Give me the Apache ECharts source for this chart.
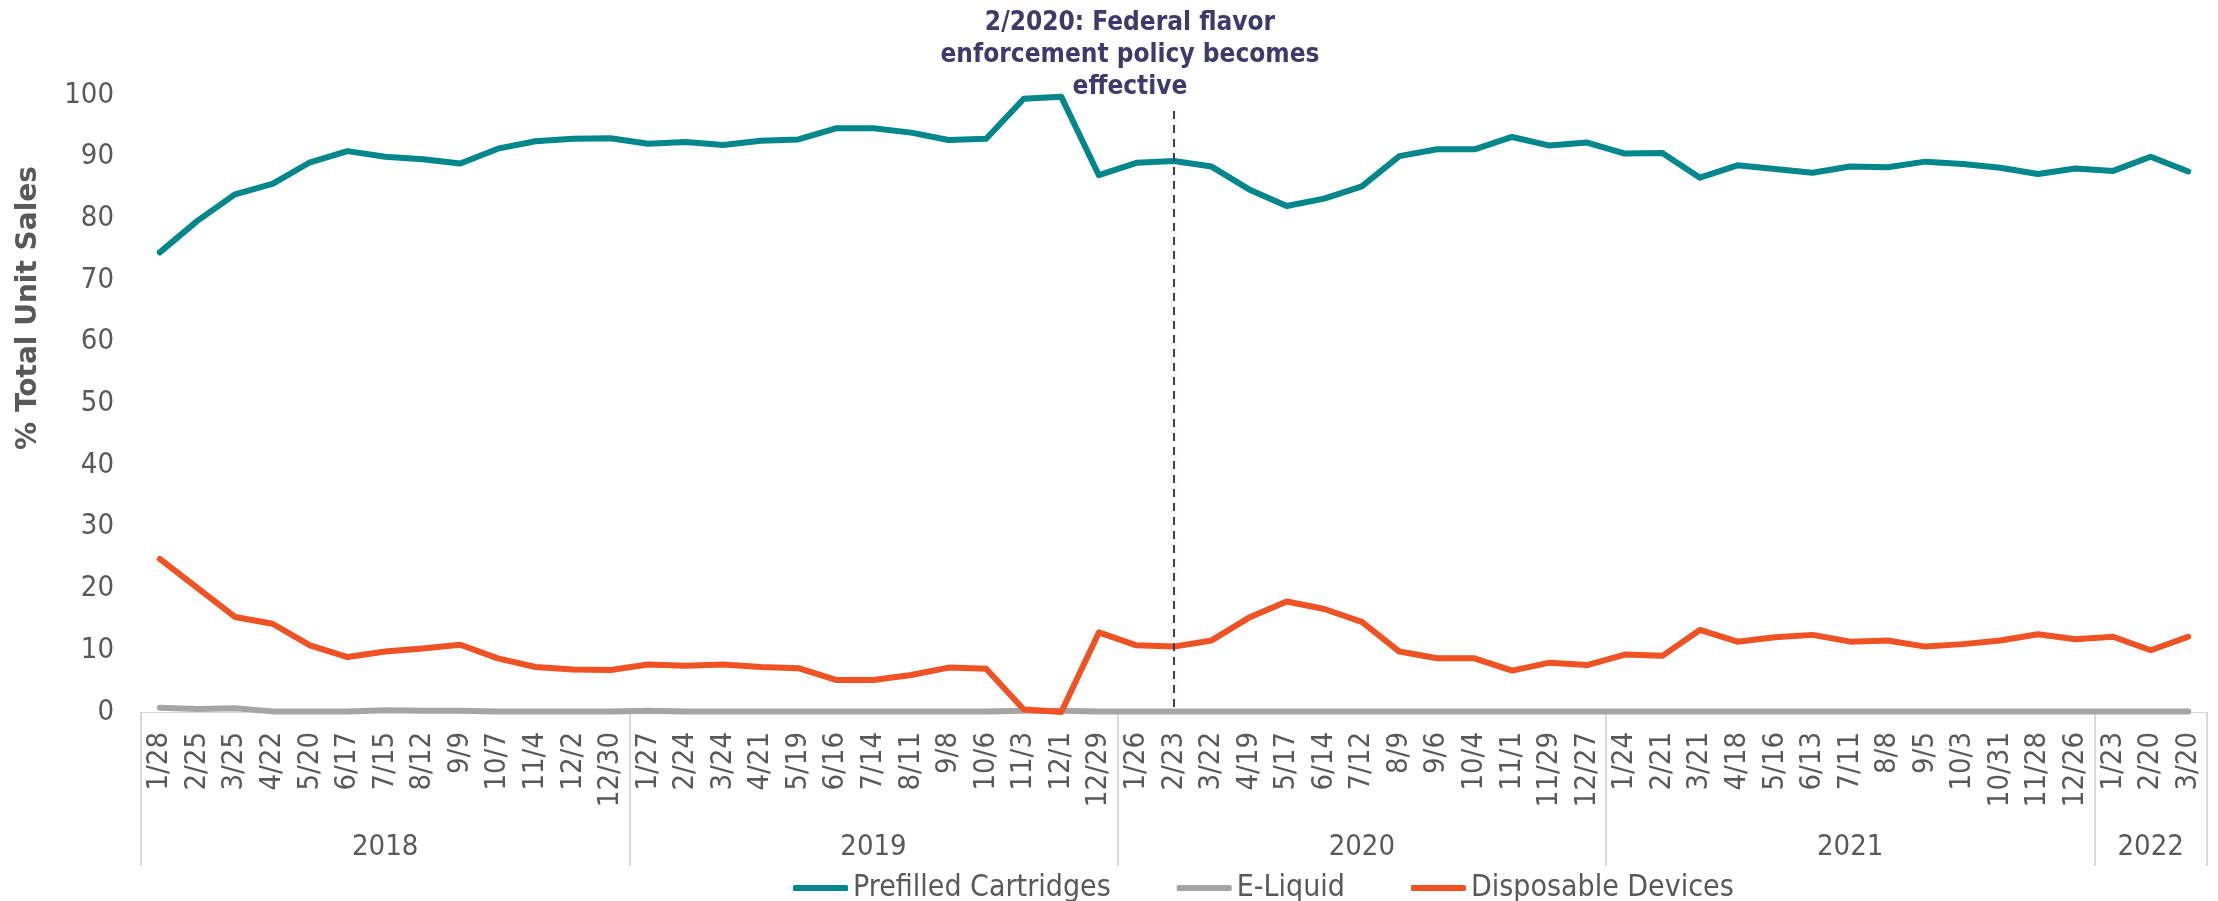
<!DOCTYPE html>
<html>
<head>
<meta charset="utf-8">
<script src="https://cdn.jsdelivr.net/npm/echarts@6/dist/echarts.min.js"></script>
<style>html,body{margin:0;padding:0;background:#fff}#c{width:2218px;height:901px}</style>
</head>
<body>
<div id="c"></div>
<script>
const months = ['1/28','2/25','3/25','4/22','5/20','6/17','7/15','8/12','9/9','10/7','11/4','12/2','12/30',
  '1/27','2/24','3/24','4/21','5/19','6/16','7/14','8/11','9/8','10/6','11/3','12/1','12/29',
  '1/26','2/23','3/22','4/19','5/17','6/14','7/12','8/9','9/6','10/4','11/1','11/29','12/27',
  '1/24','2/21','3/21','4/18','5/16','6/13','7/11','8/8','9/5','10/3','10/31','11/28','12/26',
  '1/23','2/20','3/20'];
const yearLabels = ['2018','2019','2020','2021','2022'];
const yearSizes = [13,13,13,13,3];
const prefilled = [74.5,79.6,83.9,85.6,89.1,90.9,90.0,89.6,88.9,91.3,92.5,92.9,93.0,
  92.1,92.4,91.9,92.6,92.8,94.6,94.6,93.9,92.7,92.9,99.4,99.7,87.0,
  89.0,89.3,88.4,84.7,82.0,83.2,85.2,90.1,91.2,91.2,93.2,91.8,92.3,
  90.5,90.6,86.6,88.6,88.0,87.4,88.4,88.3,89.2,88.8,88.2,87.2,88.1,
  87.7,90.0,87.6];
const eliquid = [0.7,0.5,0.6,0.1,0.1,0.1,0.3,0.2,0.2,0.1,0.1,0.1,0.1,
  0.2,0.1,0.1,0.1,0.1,0.1,0.1,0.1,0.1,0.1,0.2,0.2,0.1,
  0.1,0.1,0.1,0.1,0.1,0.1,0.1,0.1,0.1,0.1,0.1,0.1,0.1,
  0.1,0.1,0.1,0.1,0.1,0.1,0.1,0.1,0.1,0.1,0.1,0.1,0.1,
  0.1,0.1,0.1];
const disposable = [24.8,20.1,15.4,14.3,10.8,8.9,9.8,10.3,10.9,8.7,7.3,6.9,6.8,
  7.7,7.5,7.7,7.3,7.1,5.2,5.2,6.0,7.2,7.0,0.4,0.0,12.9,
  10.8,10.6,11.6,15.3,17.9,16.7,14.6,9.8,8.7,8.7,6.7,8.0,7.6,
  9.3,9.1,13.3,11.4,12.1,12.5,11.4,11.6,10.6,11.0,11.6,12.6,11.8,
  12.2,10.0,12.2];
const yTicks = [0,10,20,30,40,50,60,70,80,90,100];
const annotationText = '2/2020: Federal flavor\nenforcement policy becomes\neffective';
const annotationCategory = '2/23';

// group boundaries and centers
const groupStarts = [], groupCenters = {}, yearOfIndex = [];
let acc = 0;
yearSizes.forEach((n, g) => {
  groupStarts.push(acc);
  groupCenters[acc + Math.floor((n - 1) / 2)] = yearLabels[g];
  for (let k = 0; k < n; k++) yearOfIndex.push(yearLabels[g]);
  acc += n;
});

const FONT = "'DejaVu Sans Condensed', 'DejaVu Sans', sans-serif";
const TXT = '#595959';
const chart = echarts.init(document.getElementById('c'));
const lineSeries = (name, data, color) => ({
  name, type: 'line', data, symbol: 'none', smooth: false,
  lineStyle: { color, width: 6, cap: 'round', join: 'round' },
  itemStyle: { color }, xAxisIndex: 0, yAxisIndex: 0, animation: false
});
const s0 = lineSeries('Prefilled Cartridges', prefilled, '#00878C');
const s1 = lineSeries('E-Liquid', eliquid, '#A5A5A5');
const s2 = lineSeries('Disposable Devices', disposable, '#F05223');
s0.markLine = {
  silent: true, symbol: 'none', animation: false,
  lineStyle: { color: '#3F3A6E', type: [8, 6], width: 2 },
  label: { show: false },
  data: [[{ xAxis: annotationCategory, yAxis: 97.4 }, { xAxis: annotationCategory, yAxis: 0.4 }]]
};
chart.setOption({
  animation: false,
  backgroundColor: '#fff',
  grid: { left: 141, right: 11, top: 95, bottom: 189, containLabel: false },
  xAxis: [
    {
      type: 'category', data: months, boundaryGap: true, position: 'bottom',
      axisLine: { show: true, lineStyle: { color: '#D9D9D9', width: 1 } },
      axisTick: { show: false },
      axisLabel: { interval: 0, rotate: 90, margin: 20, color: TXT, fontFamily: FONT, fontSize: 29 }
    },
    {
      type: 'category', data: months, boundaryGap: true, position: 'bottom',
      axisLine: { show: false },
      axisTick: { show: true, length: 154, interval: (i) => groupStarts.includes(i),
        lineStyle: { color: '#D9D9D9', width: 2 } },
      axisLabel: { interval: (i) => groupCenters[i] !== undefined, margin: 121,
        formatter: (v, i) => yearOfIndex[i], color: TXT, fontFamily: FONT, fontSize: 29 }
    }
  ],
  yAxis: {
    type: 'value', min: 0, max: 100, interval: 10,
    splitLine: { show: false }, axisLine: { show: false }, axisTick: { show: false },
    axisLabel: { margin: 27, color: TXT, fontFamily: FONT, fontSize: 29,
      formatter: (v) => yTicks.includes(v) ? String(v) : '' }
  },
  legend: {
    left: 788, top: 868, itemGap: 66, itemWidth: 55, itemHeight: 6, icon: 'roundRect',
    textStyle: { color: TXT, fontFamily: FONT, fontSize: 30 },
    data: ['Prefilled Cartridges', 'E-Liquid', 'Disposable Devices']
  },
  graphic: [
    { type: 'text', x: 29, y: 308, rotation: Math.PI / 2,
      style: { text: '% Total Unit Sales', fill: TXT, font: "bold 28px 'DejaVu Sans', sans-serif",
        align: 'center', verticalAlign: 'middle' } },
    { type: 'text', x: 1130, y: 55,
      style: { text: annotationText, fill: '#3F3A6E', font: "bold 26px " + FONT,
        lineHeight: 32, align: 'center', verticalAlign: 'middle' } }
  ],
  series: [s0, s1, s2]
});
</script>
</body>
</html>
